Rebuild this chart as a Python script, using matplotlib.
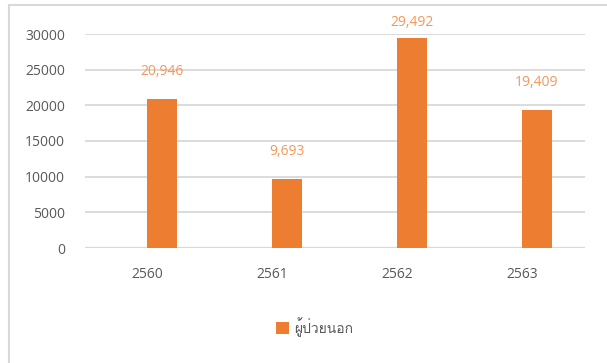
import matplotlib
matplotlib.use('Agg')
import matplotlib.pyplot as plt
from matplotlib import font_manager, ft2font
from matplotlib.lines import Line2D

years = ['2560', '2561', '2562', '2563']
outpatients = [20946, 9693, 29492, 19409]
series_name = 'ผู้ป่วยนอก'
y_ticks = [0, 5000, 10000, 15000, 20000, 25000, 30000]


def find_thai_font():
    # pick any installed font that has Thai glyphs
    for f in font_manager.fontManager.ttflist:
        try:
            if ft2font.FT2Font(f.fname).get_char_index(ord('ผ')):
                return f.name
        except Exception:
            pass
    return None


fams = ['Open Sans']
thai = find_thai_font()
if thai:
    fams.append(thai)
fams.append('DejaVu Sans')
plt.rcParams['font.family'] = fams

W, H = 607, 363
fig = plt.figure(figsize=(W / 100, H / 100), dpi=100)
ax = fig.add_axes([84.5 / W, (H - 248) / H, 500 / W, 214 / H])

bar_col = '#ED7D31'
lab_col = '#F4975A'
grid_col = '#D9D9D9'
txt_col = '#595959'

x = list(range(len(years)))
ax.bar(x, outpatients, width=0.24, align='edge', color=bar_col, zorder=3,
       label=series_name)
ax.set_xlim(-0.5, len(years) - 0.5)
ax.set_ylim(0, 30000)
ax.set_yticks(y_ticks)
ax.set_yticklabels([str(t) for t in y_ticks])
ax.set_xticks(x)
ax.set_xticklabels(years)
ax.grid(axis='y', color=grid_col, linewidth=1.3, zorder=0)
for s in ax.spines.values():
    s.set_visible(False)
ax.axhline(0, color=grid_col, linewidth=1.6, zorder=2)
ax.tick_params(length=0, labelsize=10, labelcolor=txt_col)
ax.tick_params(axis='y', pad=14)
ax.tick_params(axis='x', pad=14)

# data labels, pushed down when they would leave the chart area
for xi, v in zip(x, outpatients):
    top_px = ax.transData.transform((xi + 0.12, v))[1]
    lab_px = min(top_px + 27, H - 22)
    ax.annotate(f'{v:,}', (xi + 0.12, v), xytext=(0, (lab_px - top_px) * 0.72),
                textcoords='offset points', ha='center', va='center',
                color=lab_col, fontsize=10)

fig.legend(loc='center', bbox_to_anchor=(315 / W, 1 - 327 / H), frameon=False,
           fontsize=10, labelcolor=txt_col, handlelength=0.9, handleheight=0.9,
           handletextpad=0.4)

# chart area border (only left and top visible in the crop)
fig.add_artist(Line2D([8.5 / W, 8.5 / W], [0, 1 - 4.5 / H], color=grid_col,
                      linewidth=1.5, transform=fig.transFigure))
fig.add_artist(Line2D([8.5 / W, 1], [1 - 4.5 / H, 1 - 4.5 / H], color=grid_col,
                      linewidth=1.5, transform=fig.transFigure))

fig.savefig('out.png', dpi=100)
